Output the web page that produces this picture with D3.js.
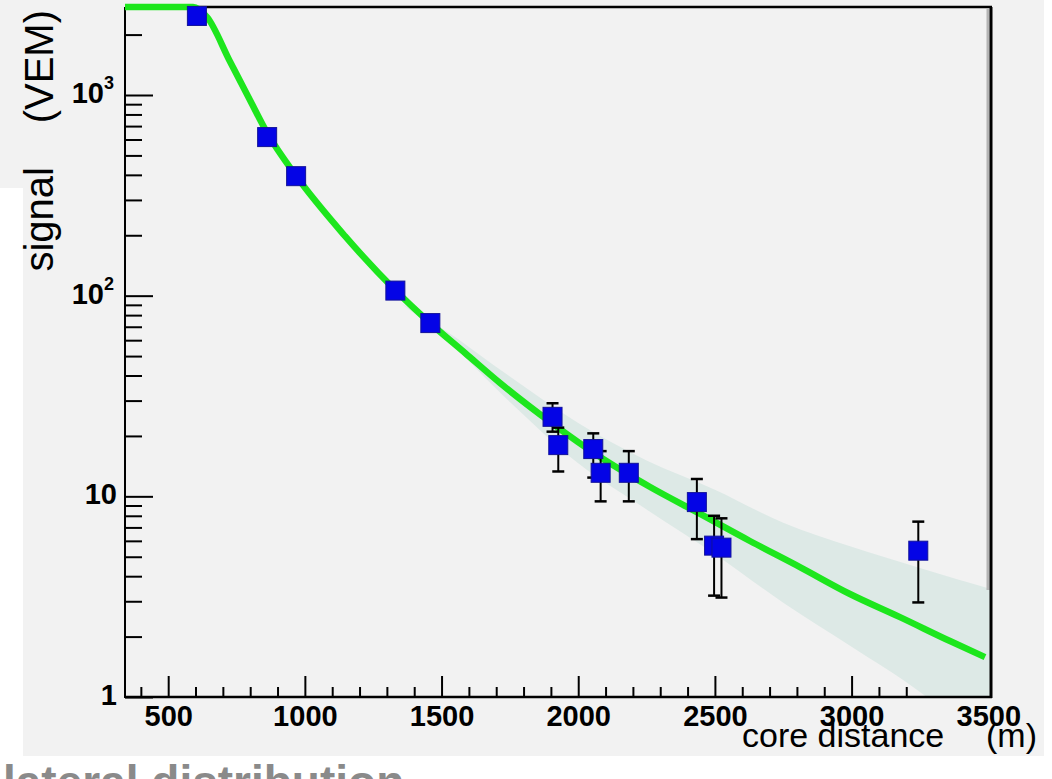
<!DOCTYPE html>
<html>
<head>
<meta charset="utf-8">
<script src="https://cdn.jsdelivr.net/npm/d3@7"></script>
<style>
  html, body { margin: 0; padding: 0; background: #ffffff; }
  svg { display: block; }
  text { font-family: "Liberation Sans", Arial, Helvetica, sans-serif; }
</style>
</head>
<body>
<svg id="chart" width="1052" height="779"></svg>
<script>
// Station signals of one event versus distance from the shower core
const stationDistance = [605, 862, 968, 1331, 1459, 1906, 1927, 2055, 2082, 2185, 2434, 2497, 2524, 3244];
const stationSignal   = [2477, 617, 394, 106, 73, 24.9, 18.0, 17.2, 13.1, 13.1, 9.36, 5.68, 5.55, 5.36];
const signalUpper     = [2560, 640, 408, 110, 76, 29.1, 22.0, 20.6, 16.8, 16.8, 12.2, 8.0, 7.77, 7.48];
const signalLower     = [2400, 595, 380, 102, 70, 21.0, 13.3, 12.4, 9.44, 9.44, 6.12, 3.2, 3.13, 2.96];

// Fitted lateral distribution function, sampled along core distance
const fitDistance = [342, 591, 642, 726, 799, 862, 968, 1147, 1330, 1458, 1586, 1714, 1897, 2080, 2263, 2446, 2628, 2811, 2994, 3177, 3360, 3488];
const fitSignal   = [9000, 2745, 2447, 1469, 944, 647, 395, 198, 106.7, 73.1, 51.8, 36.7, 23.5, 15.7, 11.13, 8.17, 5.99, 4.44, 3.26, 2.50, 1.90, 1.58];

// Uncertainty band of the fit
const bandDistance = [1350, 1500, 1750, 2000, 2250, 2500, 2750, 3000, 3250, 3520];
const bandLower    = [92, 63.5, 29.5, 14.6, 8.6, 5.15, 2.95, 1.78, 1.06, 0.52];
const bandUpper    = [92, 69.0, 39.5, 23.2, 15.1, 10.8, 7.38, 5.60, 4.40, 3.42];

// Axis ticks and labels
const xMajorTicks = [500, 1000, 1500, 2000, 2500, 3000, 3500];
const xTickLabels = ["500", "1000", "1500", "2000", "2500", "3000", "3500"];
const yMajorTicks = [1, 10, 100, 1000];
const yLabelBase  = ["1", "10", "10", "10"];
const yLabelExp   = ["", "", "2", "3"];

const xTitle = "core distance";
const xUnit = "(m)";
const yTitle = "signal";
const yUnit = "(VEM)";
const footerText = "lateral distribution";

const svg = d3.select("#chart");
const W = 1052, H = 779;
const plot = { left: 125, right: 991, top: 7, bottom: 697 };

const x = d3.scaleLinear().domain([342, 3510]).range([plot.left, plot.right]);
const y = d3.scaleLog().domain([1, 2745]).range([plot.bottom, plot.top]);
const [yMin, yMax] = y.domain();

// Canvas backgrounds
svg.append("rect").attr("x", 0).attr("y", 0).attr("width", W).attr("height", H).attr("fill", "#ffffff");
svg.append("rect").attr("x", 23).attr("y", 0).attr("width", 1021).attr("height", 756).attr("fill", "#f2f2f2");
svg.append("rect").attr("x", 0).attr("y", 0).attr("width", 23).attr("height", 188).attr("fill", "#f2f2f2");

// Footer caption, running past the bottom edge of the page
svg.append("text")
  .attr("x", 3).attr("y", 798)
  .attr("font-size", 46).attr("font-weight", "bold")
  .attr("fill", "#8a8a8a")
  .text(footerText);

svg.append("defs").append("clipPath").attr("id", "plotClip")
  .append("rect")
  .attr("x", plot.left).attr("y", plot.top)
  .attr("width", plot.right - plot.left).attr("height", plot.bottom - plot.top);

// X axis: minor ticks every 100 m, major every 500 m, pointing inward
const xMinorTicks = d3.range(400, 3510, 100).filter(v => v % 500 !== 0);
const xMinorAxis = svg.append("g")
  .attr("transform", `translate(0,${plot.bottom})`)
  .call(d3.axisBottom(x).tickValues(xMinorTicks).tickSize(-10).tickSizeOuter(0).tickFormat(""));
const xMajorAxis = svg.append("g")
  .attr("transform", `translate(0,${plot.bottom})`)
  .call(d3.axisBottom(x).tickValues(xMajorTicks).tickSize(-21).tickSizeOuter(0)
        .tickPadding(8).tickFormat((d, i) => xTickLabels[i]));
[xMinorAxis, xMajorAxis].forEach(g => {
  g.select(".domain").remove();
  g.selectAll(".tick line").attr("stroke", "#000").attr("stroke-width", 2);
});
xMajorAxis.selectAll(".tick text")
  .attr("font-size", 29).attr("font-weight", "bold").attr("fill", "#000")
  .attr("font-family", "'Liberation Sans', Arial, sans-serif");

// Y axis: log decades with minor ticks 2..9
const yMinorTicks = [];
yMajorTicks.forEach(dec => {
  for (let m = 2; m <= 9; m++) {
    const v = dec * m;
    if (v < yMax) yMinorTicks.push(v);
  }
});
const yMinorAxis = svg.append("g")
  .attr("transform", `translate(${plot.left},0)`)
  .call(d3.axisLeft(y).tickValues(yMinorTicks).tickSize(-17).tickSizeOuter(0).tickFormat(""));
const yMajorAxis = svg.append("g")
  .attr("transform", `translate(${plot.left},0)`)
  .call(d3.axisLeft(y).tickValues(yMajorTicks).tickSize(-28).tickSizeOuter(0).tickFormat(""));
[yMinorAxis, yMajorAxis].forEach(g => {
  g.select(".domain").remove();
  g.selectAll(".tick line").attr("stroke", "#000").attr("stroke-width", 2);
});

// Y tick labels with superscript exponents
yMajorTicks.forEach((v, i) => {
  const t = svg.append("text")
    .attr("x", yLabelExp[i] ? 114 : 117)
    .attr("y", y(v) + 8)
    .attr("text-anchor", "end")
    .attr("font-size", 29).attr("font-weight", "bold").attr("fill", "#000");
  t.append("tspan").text(yLabelBase[i]);
  if (yLabelExp[i]) {
    t.append("tspan").attr("font-size", 18).attr("dy", -14).text(yLabelExp[i]);
  }
});

// Fit uncertainty band (drawn over the tick marks, inside the frame)
const band = bandDistance.map((d, i) => ({ d, lo: bandLower[i], hi: bandUpper[i] }));
svg.append("path")
  .datum(band)
  .attr("clip-path", "url(#plotClip)")
  .attr("fill", "#dde9e6")
  .attr("d", d3.area()
    .x(p => x(p.d))
    .y0(p => y(Math.max(p.lo, 0.3)))
    .y1(p => y(p.hi))
    .curve(d3.curveMonotoneX));

// Frame
const frame = svg.append("g").attr("fill", "none").attr("stroke", "#000");
frame.append("line").attr("x1", plot.left).attr("x2", plot.right + 1).attr("y1", plot.bottom).attr("y2", plot.bottom).attr("stroke-width", 2.5);
frame.append("line").attr("x1", plot.left).attr("x2", plot.left).attr("y1", plot.top).attr("y2", plot.bottom + 1).attr("stroke-width", 2);
frame.append("line").attr("x1", plot.left).attr("x2", plot.right + 1).attr("y1", plot.top).attr("y2", plot.top).attr("stroke-width", 2.5);
frame.append("line").attr("x1", plot.right - 3).attr("x2", plot.right - 3).attr("y1", plot.top + 1).attr("y2", 590)
  .attr("stroke", "#b4b4b4").attr("stroke-width", 3);
frame.append("line").attr("x1", plot.right).attr("x2", plot.right).attr("y1", plot.top).attr("y2", plot.bottom + 1).attr("stroke-width", 3);

// Fitted curve, held at the frame top where it leaves the range
const fit = fitDistance.map((d, i) => ({ d, s: fitSignal[i] }));
svg.append("path")
  .datum(fit)
  .attr("fill", "none")
  .attr("stroke", "#1de61d")
  .attr("stroke-width", 6.5)
  .attr("stroke-linejoin", "round")
  .attr("d", d3.line()
    .x(p => x(p.d))
    .y(p => y(Math.min(p.s, yMax)))
    .curve(d3.curveMonotoneX));

// Stations: error bars then square markers
const stations = stationDistance.map((d, i) => ({
  d, s: stationSignal[i], hi: signalUpper[i], lo: signalLower[i]
}));
const capHalf = 6;
const bars = svg.append("g").attr("stroke", "#000").attr("stroke-width", 2);
stations.forEach(p => {
  const cx = x(p.d);
  bars.append("line").attr("x1", cx).attr("x2", cx).attr("y1", y(p.hi)).attr("y2", y(p.lo));
  bars.append("line").attr("x1", cx - capHalf).attr("x2", cx + capHalf).attr("y1", y(p.hi)).attr("y2", y(p.hi)).attr("stroke-width", 2.5);
  bars.append("line").attr("x1", cx - capHalf).attr("x2", cx + capHalf).attr("y1", y(p.lo)).attr("y2", y(p.lo)).attr("stroke-width", 2.5);
});
const size = 19;
svg.append("g").selectAll("rect")
  .data(stations)
  .join("rect")
  .attr("x", p => x(p.d) - size / 2)
  .attr("y", p => y(p.s) - size / 2)
  .attr("width", size).attr("height", size)
  .attr("fill", "#0404e6")
  .attr("stroke", "#12129a")
  .attr("stroke-width", 1);

// Axis titles
svg.append("text")
  .attr("x", 742).attr("y", 747)
  .attr("font-size", 34).attr("fill", "#000")
  .text(xTitle);
svg.append("text")
  .attr("x", 1037).attr("y", 747)
  .attr("text-anchor", "end")
  .attr("font-size", 34).attr("fill", "#000")
  .text(xUnit);

svg.append("text")
  .attr("transform", "translate(53,10) rotate(-90)")
  .attr("text-anchor", "end")
  .attr("font-size", 40).attr("fill", "#000")
  .text(yUnit);
svg.append("text")
  .attr("transform", "translate(53,167) rotate(-90)")
  .attr("text-anchor", "end")
  .attr("font-size", 40).attr("fill", "#000")
  .text(yTitle);
</script>
</body>
</html>
